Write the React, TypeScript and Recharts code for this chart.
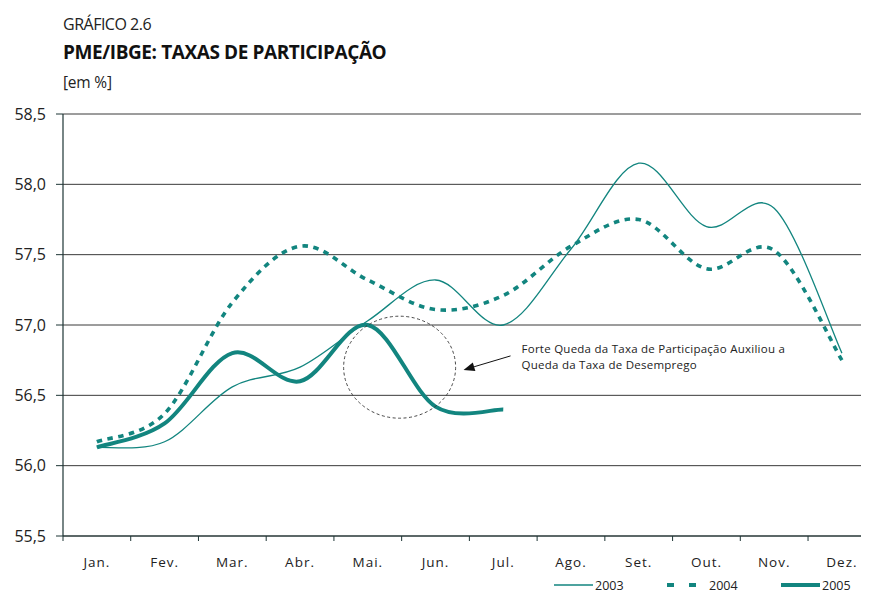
import React from "react";
import { LineChart, Line, XAxis, YAxis, CartesianGrid, ReferenceDot } from "recharts";

const months = ["Jan.", "Fev.", "Mar.", "Abr.", "Mai.", "Jun.", "Jul.", "Ago.", "Set.", "Out.", "Nov.", "Dez."];
const s2003 = [56.13, 56.17, 56.56, 56.7, 57.03, 57.32, 57.0, 57.54, 58.15, 57.7, 57.83, 56.8];
const s2004 = [56.17, 56.37, 57.16, 57.56, 57.32, 57.11, 57.21, 57.56, 57.75, 57.4, 57.53, 56.75];
const s2005: (number | null)[] = [56.13, 56.3, 56.8, 56.6, 57.0, 56.42, 56.4, null, null, null, null, null];
const yTicks = [55.5, 56.0, 56.5, 57.0, 57.5, 58.0, 58.5];
const seriesNames = ["2003", "2004", "2005"];

const TEAL = "#12857f";
const FONT = "'Open Sans', 'DejaVu Sans', sans-serif";

const data = months.map((m, i) => ({
  x: i,
  month: m,
  y2003: s2003[i],
  y2004: s2004[i],
  y2005: s2005[i],
}));

const xTicks: number[] = [];
for (let i = 0; i < months.length; i++) {
  xTicks.push(i - 0.5);
  xTicks.push(i);
}

// Excel-like smoothed curve (Catmull-Rom style Bezier)
function excelCurve(context: any) {
  let pts: [number, number][] = [];
  return {
    areaStart() {},
    areaEnd() {},
    lineStart() {
      pts = [];
    },
    lineEnd() {
      const n = pts.length;
      if (n === 0) return;
      context.moveTo(pts[0][0], pts[0][1]);
      if (n === 1) return;
      for (let i = 0; i < n - 1; i++) {
        const p0 = pts[Math.max(i - 1, 0)];
        const p1 = pts[i];
        const p2 = pts[i + 1];
        const p3 = pts[Math.min(i + 2, n - 1)];
        context.bezierCurveTo(
          p1[0] + (p2[0] - p0[0]) / 6,
          p1[1] + (p2[1] - p0[1]) / 6,
          p2[0] - (p3[0] - p1[0]) / 6,
          p2[1] - (p3[1] - p1[1]) / 6,
          p2[0],
          p2[1]
        );
      }
    },
    point(x: number, y: number) {
      pts.push([+x, +y]);
    },
  };
}

const XTick = (props: any) => {
  const { x, y, payload } = props;
  const v = payload.value as number;
  if (Number.isInteger(v)) {
    return (
      <text x={x} y={y + 26} textAnchor="middle" fontSize={13.5} fill="#222" fontFamily={FONT} letterSpacing={1}>
        {months[v]}
      </text>
    );
  }
  return <line x1={x} x2={x} y1={y - 5} y2={y} stroke="#1d3535" strokeWidth={1} />;
};

const Ellipse = (props: any) => {
  const { cx, cy } = props;
  if (cx == null || cy == null) return null;
  return <ellipse cx={cx} cy={cy} rx={56} ry={51} fill="none" stroke="#333" strokeWidth={0.9} strokeDasharray="3 2.5" />;
};

const Note = (props: any) => {
  const { cx, cy } = props;
  if (cx == null || cy == null) return null;
  const x1 = cx - 11, y1 = cy + 7;
  const x2 = cx - 58, y2 = cy + 21;
  const ang = Math.atan2(y2 - y1, x2 - x1);
  const L = 11, W = 4.5;
  const bx = x2 - L * Math.cos(ang), by = y2 - L * Math.sin(ang);
  const px = -Math.sin(ang) * W, py = Math.cos(ang) * W;
  return (
    <g>
      <line x1={x1} y1={y1} x2={bx} y2={by} stroke="#111" strokeWidth={1} />
      <polygon points={`${x2},${y2} ${bx + px},${by + py} ${bx - px},${by - py}`} fill="#111" />
      <text x={cx} y={cy + 4} fontSize={11.5} fill="#222" fontFamily={FONT} letterSpacing={0.25}>
        Forte Queda da Taxa de Participação Auxiliou a
      </text>
      <text x={cx} y={cy + 20} fontSize={11.5} fill="#222" fontFamily={FONT} letterSpacing={0.25}>
        Queda da Taxa de Desemprego
      </text>
    </g>
  );
};

const Legend = () => {
  const items = [
    { name: seriesNames[0], x: 546, w: 1.4, dash: undefined as string | undefined },
    { name: seriesNames[1], x: 659, w: 4, dash: "7 15" },
    { name: seriesNames[2], x: 773, w: 4, dash: undefined },
  ];
  return (
    <svg width={861} height={16} style={{ position: "absolute", left: 0, top: 570, overflow: "visible" }}>
      {items.map((it) => (
        <g key={it.name}>
          <line x1={it.x} x2={it.x + (it.name === "2004" ? 30 : 39)} y1={7} y2={7} stroke={TEAL} strokeWidth={it.w} strokeDasharray={it.dash} />
          <text x={it.name === "2004" ? it.x + 42 : it.x + 41} y={11.5} fontSize={12.5} fill="#222" fontFamily={FONT}>
            {it.name}
          </text>
        </g>
      ))}
    </svg>
  );
};

export default function App() {
  return (
    <div style={{ position: "relative", width: 861, height: 584, fontFamily: FONT }}>
      <div style={{ position: "absolute", left: 55, top: 6, fontSize: 16, color: "#222", fontWeight: 400, letterSpacing: -0.5, lineHeight: "20px" }}>
        GRÁFICO 2.6
      </div>
      <div style={{ position: "absolute", left: 55, top: 32, fontSize: 19, color: "#111", fontWeight: 700, letterSpacing: -0.4, lineHeight: "24px" }}>
        PME/IBGE: TAXAS DE PARTICIPAÇÃO
      </div>
      <div style={{ position: "absolute", left: 55, top: 64, fontSize: 15.5, color: "#222", lineHeight: "20px", letterSpacing: -0.2 }}>
        [em %]
      </div>
      <LineChart width={861} height={584} data={data} margin={{ top: 106, right: 0, bottom: 26, left: 0 }}>
        <CartesianGrid horizontal={true} vertical={false} stroke="#3a3a3a" strokeWidth={1} />
        <XAxis
          dataKey="x"
          type="number"
          domain={[-0.5, 11.4]}
          ticks={xTicks}
          interval={0}
          tick={<XTick />}
          tickLine={false}
          tickSize={5}
          tickMargin={0}
          height={30}
          axisLine={{ stroke: "#1d3535", strokeWidth: 1.2 }}
          allowDataOverflow
        />
        <YAxis
          type="number"
          domain={[55.5, 58.5]}
          ticks={yTicks}
          interval={0}
          width={55}
          tickSize={7}
          tickMargin={10}
          tickFormatter={(v: number) => v.toFixed(1).replace(".", ",")}
          tick={{ fontSize: 16, fill: "#222", fontFamily: FONT }}
          tickLine={{ stroke: "#1d3535" }}
          axisLine={{ stroke: "#1d3535", strokeWidth: 1.2 }}
          allowDataOverflow
        />
        <ReferenceDot x={4.47} y={56.7} r={0} shape={<Ellipse />} />
        <ReferenceDot x={6.27} y={56.83} r={0} shape={<Note />} />
        <Line dataKey="y2003" type={excelCurve as any} stroke={TEAL} strokeWidth={1.3} dot={false} isAnimationActive={false} />
        <Line dataKey="y2004" type={excelCurve as any} stroke={TEAL} strokeWidth={3.6} strokeDasharray="5.5 5.5" dot={false} isAnimationActive={false} />
        <Line dataKey="y2005" type={excelCurve as any} stroke={TEAL} strokeWidth={4} dot={false} isAnimationActive={false} connectNulls={false} />
      </LineChart>
      <Legend />
    </div>
  );
}
